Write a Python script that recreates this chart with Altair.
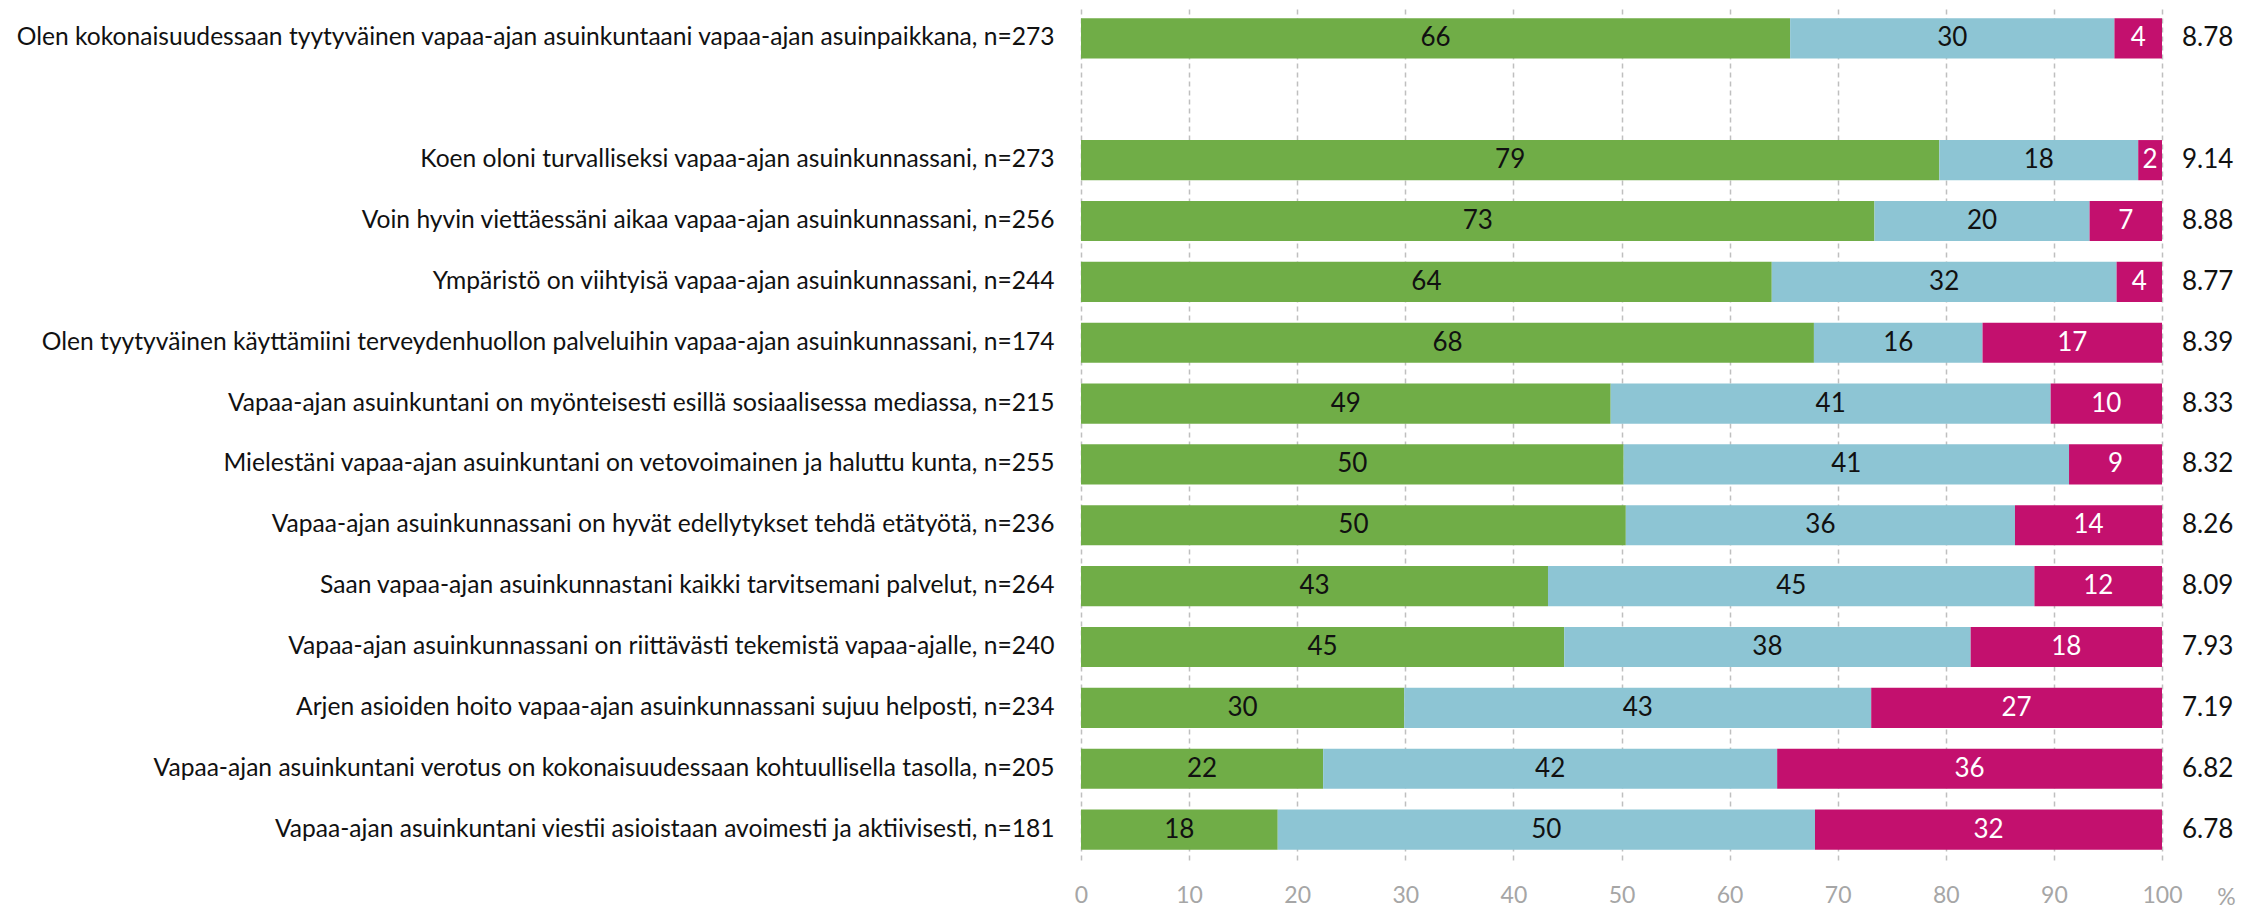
import altair as alt
import pandas as pd

items = [
    "Olen kokonaisuudessaan tyytyväinen vapaa-ajan asuinkuntaani vapaa-ajan asuinpaikkana, n=273",
    "Koen oloni turvalliseksi vapaa-ajan asuinkunnassani, n=273",
    "Voin hyvin viettäessäni aikaa vapaa-ajan asuinkunnassani, n=256",
    "Ympäristö on viihtyisä vapaa-ajan asuinkunnassani, n=244",
    "Olen tyytyväinen käyttämiini terveydenhuollon palveluihin vapaa-ajan asuinkunnassani, n=174",
    "Vapaa-ajan asuinkuntani on myönteisesti esillä sosiaalisessa mediassa, n=215",
    "Mielestäni vapaa-ajan asuinkuntani on vetovoimainen ja haluttu kunta, n=255",
    "Vapaa-ajan asuinkunnassani on hyvät edellytykset tehdä etätyötä, n=236",
    "Saan vapaa-ajan asuinkunnastani kaikki tarvitsemani palvelut, n=264",
    "Vapaa-ajan asuinkunnassani on riittävästi tekemistä vapaa-ajalle, n=240",
    "Arjen asioiden hoito vapaa-ajan asuinkunnassani sujuu helposti, n=234",
    "Vapaa-ajan asuinkuntani verotus on kokonaisuudessaan kohtuullisella tasolla, n=205",
    "Vapaa-ajan asuinkuntani viestii asioistaan avoimesti ja aktiivisesti, n=181",
]
positive = [65.6, 79.4, 73.4, 63.9, 67.8, 49.0, 50.2, 50.4, 43.2, 44.7, 29.9, 22.4, 18.2]
neutral = [30.0, 18.4, 19.9, 31.9, 15.6, 40.7, 41.2, 36.0, 45.0, 37.6, 43.2, 42.0, 49.7]
negative = [4.4, 2.2, 6.7, 4.2, 16.6, 10.3, 8.6, 13.6, 11.8, 17.7, 26.9, 35.6, 32.1]
scores = ["8.78", "9.14", "8.88", "8.77", "8.39", "8.33", "8.32", "8.26", "8.09", "7.93", "7.19", "6.82", "6.78"]
x_ticks = [0, 10, 20, 30, 40, 50, 60, 70, 80, 90, 100]

cats = ["pos", "neu", "neg"]
colors = ["#70AD47", "#8DC5D4", "#C3106E"]

spacer = " "
y_domain = [items[0], spacer] + items[1:]

rows = []
for i, it in enumerate(items):
    for k, (c, vals) in enumerate(zip(cats, [positive, neutral, negative])):
        rows.append({"item": it, "cat": c, "order": k, "value": vals[i]})
df = pd.DataFrame(rows)
df_scores = pd.DataFrame({"item": items, "score": scores})

FONT = "Lato"
y_scale = alt.Scale(domain=y_domain, paddingInner=0.34, paddingOuter=0.17)
x_scale = alt.Scale(domain=[0, 100], nice=False, zero=True)

y_enc = alt.Y(
    "item:N",
    scale=y_scale,
    axis=alt.Axis(
        title=None, domain=False, ticks=False, labelPadding=27,
        labelFontSize=24.6, labelColor="#111111", labelFont=FONT, labelLimit=1100,
    ),
)

base = alt.Chart(df).transform_stack(
    stack="value", groupby=["item"], as_=["x0", "x1"],
    sort=[alt.SortField("order", order="ascending")],
).transform_calculate(
    mid="(datum.x0 + datum.x1) / 2", lab="format(datum.value, '.0f')"
)

bars = base.mark_bar().encode(
    y=y_enc,
    x=alt.X(
        "x0:Q", scale=x_scale,
        axis=alt.Axis(
            values=x_ticks, title="%", titleAngle=0, titleX=1145, titleY=37,
            titleAlign="center", titleBaseline="middle", titleFontSize=23,
            titleFontWeight="normal", titleColor="#A6A6A6", titleFont=FONT,
            domain=False, ticks=False, labelPadding=24, labelFontSize=23,
            labelFlush=False, labelColor="#A6A6A6", labelFont=FONT,
            grid=True, gridColor="#BFBFBF", gridDash=[5, 4], gridWidth=1.5,
        ),
    ),
    x2="x1:Q",
    color=alt.Color("cat:N", scale=alt.Scale(domain=cats, range=colors), legend=None),
)

labels = base.mark_text(fontSize=26, font=FONT, baseline="middle", align="center").encode(
    y=alt.Y("item:N", scale=y_scale),
    x=alt.X("mid:Q", scale=x_scale),
    text="lab:N",
    color=alt.condition(alt.datum.cat == "neg", alt.value("white"), alt.value("#111111")),
)

score_text = alt.Chart(df_scores).mark_text(
    fontSize=26, font=FONT, align="left", baseline="middle", dx=20, color="#111111"
).encode(
    y=alt.Y("item:N", scale=y_scale),
    x=alt.datum(100, scale=x_scale),
    text="score:N",
)

chart = alt.layer(bars, labels, score_text).properties(
    width=1081, height=852,
    autosize=alt.AutoSizeParams(type="none"),
    padding={"left": 1073, "top": 0, "right": 86, "bottom": 50},
).configure_view(stroke=None)

chart.save("out.html", embed_options={"renderer": "svg", "actions": False})
